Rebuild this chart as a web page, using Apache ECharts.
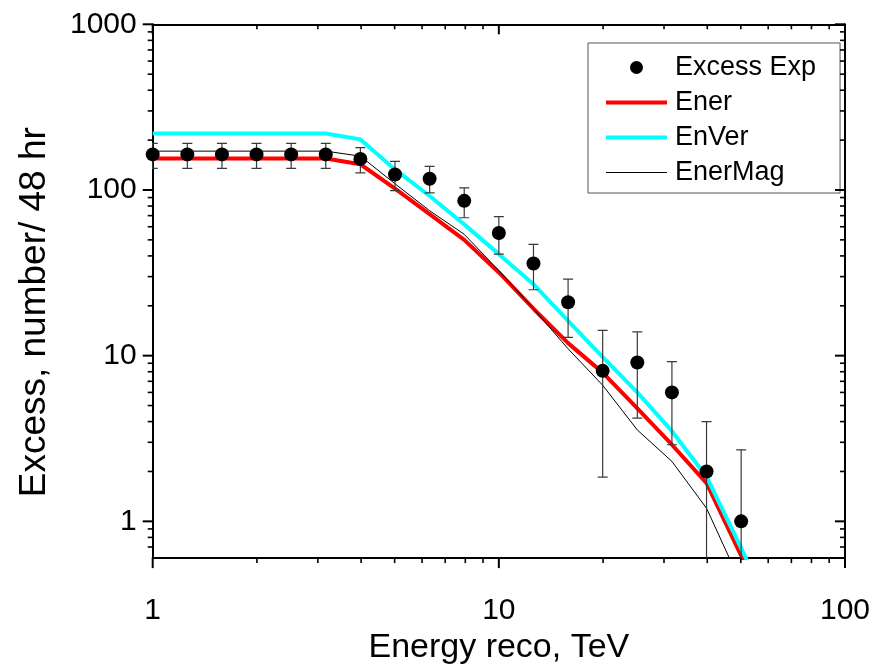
<!DOCTYPE html>
<html><head><meta charset="utf-8">
<script src="https://cdn.jsdelivr.net/npm/echarts@6/dist/echarts.min.js"></script>
<style>html,body{margin:0;padding:0;background:#fff}#c{width:887px;height:670px}</style>
</head><body><div id="c"></div>
<script>
// ---- data ----
const energy      = [1, 1.259, 1.585, 1.995, 2.512, 3.162, 3.981, 5.012, 6.310, 7.943, 10, 12.59, 15.85, 19.95, 25.12, 31.62, 39.81, 50.12];
const excess      = [164, 164, 164, 164, 164, 164, 154, 124, 117, 86, 55, 36, 21, 8.1, 9.1, 6.0, 2.0, 1.0];
const excessLow   = [135, 135, 135, 135, 135, 135, 127, 99, 96, 68, 41, 25, 12.9, 1.85, 4.2, 2.9, 0.3, 0.3];
const excessHigh  = [191, 191, 191, 191, 191, 191, 180, 149, 139, 103, 69, 47, 29, 14.2, 13.9, 9.2, 4.0, 2.7];
const modelEnergy = [1, 1.259, 1.585, 1.995, 2.512, 3.162, 3.981, 5.012, 6.310, 7.943, 10, 12.59, 15.85, 19.95, 25.12, 31.62, 39.81, 50.12, 63.1];
const ener        = [155, 155, 155, 155, 155, 155, 143, 102, 71.5, 50, 31.8, 19.2, 11.9, 7.9, 4.8, 2.9, 1.7, 0.62, 0.23];
const enVer       = [219, 219, 219, 219, 219, 219, 202, 133, 92, 62, 41, 27, 16.2, 9.8, 6.0, 3.5, 1.86, 0.69, 0.25];
const enerMag     = [171.6, 171.6, 171.6, 171.6, 171.6, 171.6, 160, 109, 75, 54, 32.6, 19.2, 11.0, 6.63, 3.56, 2.3, 1.2, 0.42, 0.15];
const xMajorTicks = [1, 10, 100];
const yMajorTicks = [1, 10, 100, 1000];
const xMinorTicks = [2, 3, 4, 5, 6, 7, 8, 9, 20, 30, 40, 50, 60, 70, 80, 90];
const yMinorTicks = [0.7, 0.8, 0.9, 2, 3, 4, 5, 6, 7, 8, 9, 20, 30, 40, 50, 60, 70, 80, 90, 200, 300, 400, 500, 600, 700, 800, 900];

const FONT = 'Liberation Sans, Arial, Helvetica, sans-serif';
const X_MIN = 1, X_MAX = 100, Y_MIN = 0.6, Y_MAX = 1000;
const TICK_COLOR = '#000';

function xAx(position, extra) {
  return Object.assign({
    type: 'log', logBase: 10, min: X_MIN, max: X_MAX, position: position,
    axisLine: {show: true, onZero: false, lineStyle: {color: '#000', width: 2}},
    axisTick: {show: false}, axisLabel: {show: false},
    splitLine: {show: false}, minorTick: {show: false}, minorSplitLine: {show: false}
  }, extra || {});
}
function yAx(position, extra) {
  return Object.assign({
    type: 'log', logBase: 10, min: Y_MIN, max: Y_MAX, position: position,
    axisLine: {show: true, onZero: false, lineStyle: {color: '#000', width: 2}},
    axisTick: {show: false}, axisLabel: {show: false},
    splitLine: {show: false}, minorTick: {show: false}, minorSplitLine: {show: false}
  }, extra || {});
}

const chart = echarts.init(document.getElementById('c'), null, {renderer: 'canvas'});
chart.setOption({
  animation: false,
  backgroundColor: '#fff',
  textStyle: {fontFamily: FONT},
  grid: {left: 152.7, right: 42, top: 24.3, bottom: 110, containLabel: false},
  legend: {
    show: true, orient: 'vertical', left: 588, top: 43,
    padding: [11, 24, 7, 18], itemGap: 8, itemWidth: 61, itemHeight: 13,
    borderColor: '#555', borderWidth: 1, borderRadius: 0, symbolKeepAspect: true,
    textStyle: {fontFamily: FONT, fontSize: 27, color: '#000', padding: [0, 0, 0, 3]},
    data: [
      {name: 'Excess Exp', icon: 'circle'},
      {name: 'Ener', icon: 'path://M0,0h61v4h-61z'},
      {name: 'EnVer', icon: 'path://M0,0h61v4h-61z'},
      {name: 'EnerMag', icon: 'path://M0,0h61v1h-61z'}
    ]
  },
  xAxis: [
    xAx('bottom', {
      axisLabel: {show: true, customValues: xMajorTicks, fontSize: 30, color: '#000', fontFamily: FONT, margin: 38,
        formatter: v => String(Math.round(v))},
      name: 'Energy reco, TeV', nameLocation: 'middle', nameGap: 66,
      nameTextStyle: {fontSize: 34, color: '#000', fontFamily: FONT}
    }),
    xAx('top')
  ],
  yAxis: [
    yAx('left', {
      axisLabel: {show: true, customValues: yMajorTicks, fontSize: 30, color: '#000', fontFamily: FONT, margin: 16,
        formatter: v => String(Math.round(v))},
      name: 'Excess, number/ 48 hr', nameLocation: 'middle', nameGap: 99, nameRotate: 90,
      nameTextStyle: {fontSize: 37, color: '#000', fontFamily: FONT, padding: [0, 42, 0, 0]}
    }),
    yAx('right')
  ],
  series: [
    {
      name: 'Ener', type: 'line', xAxisIndex: 0, yAxisIndex: 0, symbol: 'none', clip: true, z: 3,
      lineStyle: {color: '#ff0000', width: 4}, itemStyle: {color: '#ff0000'},
      data: modelEnergy.map((e, i) => [e, ener[i]])
    },
    {
      name: 'EnVer', type: 'line', xAxisIndex: 0, yAxisIndex: 0, symbol: 'none', clip: true, z: 3,
      lineStyle: {color: '#00ffff', width: 4}, itemStyle: {color: '#00ffff'},
      data: modelEnergy.map((e, i) => [e, enVer[i]])
    },
    {
      name: 'EnerMag', type: 'line', xAxisIndex: 0, yAxisIndex: 0, symbol: 'none', clip: true, z: 4,
      lineStyle: {color: '#000', width: 1}, itemStyle: {color: '#000'},
      data: modelEnergy.map((e, i) => [e, enerMag[i]])
    },
    {
      name: 'errors', type: 'custom', xAxisIndex: 0, yAxisIndex: 0, clip: true, z: 5, silent: true,
      encode: {x: 0, y: [1, 2]},
      data: energy.map((e, i) => [e, excessLow[i], excessHigh[i]]),
      renderItem: function (params, api) {
        const x = api.value(0);
        const pHi = api.coord([x, api.value(2)]);
        const pLo = api.coord([x, api.value(1)]);
        const hw = 5;
        const st = {stroke: '#3a3a3a', lineWidth: 1.2};
        return {type: 'group', children: [
          {type: 'line', shape: {x1: pHi[0], y1: pHi[1], x2: pLo[0], y2: pLo[1]}, style: st},
          {type: 'line', shape: {x1: pHi[0] - hw, y1: pHi[1], x2: pHi[0] + hw, y2: pHi[1]}, style: st},
          {type: 'line', shape: {x1: pLo[0] - hw, y1: pLo[1], x2: pLo[0] + hw, y2: pLo[1]}, style: st}
        ]};
      }
    },
    {
      name: 'Excess Exp', type: 'scatter', xAxisIndex: 0, yAxisIndex: 0, symbol: 'circle', symbolSize: 14, z: 6,
      itemStyle: {color: '#000', opacity: 1},
      data: energy.map((e, i) => [e, excess[i]])
    }
  ]
});

// ---- axis ticks (Origin style): positions through the chart's own scales ----
const finder = {xAxisIndex: 0, yAxisIndex: 0};
const tickGraphics = [];
function addTick(x, y, side, major) {
  const p = chart.convertToPixel(finder, [x, y]);
  if (!p || !isFinite(p[0]) || !isFinite(p[1])) return;
  const len = major ? 10 : 5;
  const w = major ? 2 : 1.6;
  let x2 = p[0], y2 = p[1];
  if (side === 'bottom') y2 = p[1] + len;      // outward
  else if (side === 'top') y2 = p[1] + len;    // inward
  else if (side === 'left') x2 = p[0] - len;   // outward
  else x2 = p[0] - len;                        // right, inward
  tickGraphics.push({
    type: 'line', z: 100,
    shape: {x1: p[0], y1: p[1], x2: x2, y2: y2},
    style: {stroke: TICK_COLOR, lineWidth: w}
  });
}
xMajorTicks.forEach(v => { addTick(v, Y_MIN, 'bottom', true); addTick(v, Y_MAX, 'top', true); });
xMinorTicks.forEach(v => { addTick(v, Y_MIN, 'bottom', false); addTick(v, Y_MAX, 'top', false); });
yMajorTicks.forEach(v => { addTick(X_MIN, v, 'left', true); addTick(X_MAX, v, 'right', true); });
yMinorTicks.forEach(v => { addTick(X_MIN, v, 'left', false); addTick(X_MAX, v, 'right', false); });
chart.setOption({graphic: {elements: tickGraphics}});
</script>
</body></html>
